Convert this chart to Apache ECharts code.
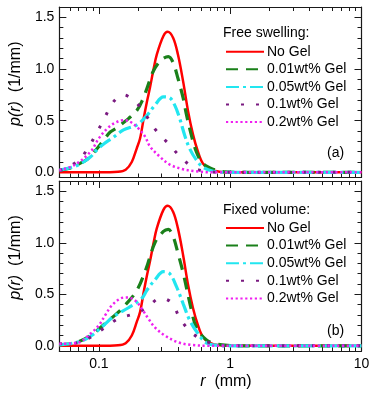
<!DOCTYPE html>
<html>
<head>
<meta charset="utf-8">
<script src="https://cdn.jsdelivr.net/npm/echarts@6/dist/echarts.min.js"></script>
<style>
  html, body { margin: 0; padding: 0; background: #fff; }
  #main { width: 381px; height: 395px; }
</style>
</head>
<body>
<div id="main"></div>
<script>
// labels
const seriesNames = ['No Gel', '0.01wt% Gel', '0.05wt% Gel', '0.1wt% Gel', '0.2wt% Gel'];
const panelTitles = ['Free swelling:', 'Fixed volume:'];
const panelTags = ['(a)', '(b)'];

// tick values
const xMajorTicks = [0.1, 1, 10];
const xMinorTicks = [0.05, 0.06, 0.07, 0.08, 0.09, 0.2, 0.3, 0.4, 0.5, 0.6, 0.7, 0.8, 0.9, 2, 3, 4, 5, 6, 7, 8, 9];
const yMajorTicks = [0, 0.5, 1, 1.5];
const yMinorTicks = [0.1, 0.2, 0.3, 0.4, 0.6, 0.7, 0.8, 0.9, 1.1, 1.2, 1.3, 1.4];

// [r (mm), p(r) (1/mm)]
const noGel = [[0.05, 0], [0.1, 0], [0.14, 0.005], [0.16, 0.025], [0.178, 0.1], [0.194, 0.23], [0.206, 0.33], [0.22, 0.53], [0.232, 0.68], [0.245, 0.82], [0.26, 0.99], [0.276, 1.14], [0.31, 1.32], [0.334, 1.36], [0.368, 1.30], [0.40, 1.14], [0.438, 0.88], [0.478, 0.59], [0.52, 0.37], [0.568, 0.20], [0.62, 0.085], [0.70, 0.03], [0.83, 0.005], [1, 0], [10, 0]];

// panel (a): free swelling
const free001 = [[0.05, 0.02], [0.06, 0.04], [0.07, 0.08], [0.082, 0.13], [0.097, 0.23], [0.11, 0.32], [0.122, 0.39], [0.137, 0.43], [0.15, 0.47], [0.168, 0.52], [0.195, 0.60], [0.215, 0.70], [0.232, 0.81], [0.26, 0.98], [0.30, 1.09], [0.338, 1.12], [0.368, 1.06], [0.40, 0.91], [0.438, 0.72], [0.464, 0.56], [0.506, 0.36], [0.552, 0.20], [0.62, 0.085], [0.74, 0.03], [0.9, 0.005], [1.2, 0], [10, 0]];
const free005 = [[0.05, 0.02], [0.054, 0.03], [0.063, 0.05], [0.073, 0.085], [0.0865, 0.15], [0.097, 0.22], [0.11, 0.28], [0.126, 0.33], [0.154, 0.41], [0.195, 0.46], [0.232, 0.55], [0.267, 0.65], [0.31, 0.73], [0.347, 0.72], [0.378, 0.65], [0.413, 0.52], [0.45, 0.36], [0.491, 0.23], [0.552, 0.12], [0.62, 0.05], [0.74, 0.01], [0.9, 0], [10, 0]];
const free01 = [[0.05, 0.02], [0.054, 0.03], [0.0707, 0.12], [0.084, 0.25], [0.096, 0.38], [0.109, 0.51], [0.124, 0.65], [0.14, 0.73], [0.154, 0.75], [0.175, 0.72], [0.195, 0.67], [0.232, 0.54], [0.275, 0.40], [0.343, 0.27], [0.433, 0.13], [0.546, 0.035], [0.7, 0.005], [1, 0], [10, 0]];
const free02 = [[0.05, 0.02], [0.065, 0.07], [0.0865, 0.20], [0.1, 0.33], [0.116, 0.425], [0.133, 0.48], [0.154, 0.505], [0.173, 0.49], [0.2, 0.425], [0.225, 0.345], [0.245, 0.25], [0.292, 0.15], [0.347, 0.075], [0.438, 0.03], [0.55, 0.01], [0.7, 0], [10, 0]];

// panel (b): fixed volume
const fixed001 = [[0.05, 0.01], [0.06, 0.02], [0.07, 0.04], [0.084, 0.09], [0.093, 0.13], [0.11, 0.21], [0.136, 0.31], [0.16, 0.40], [0.195, 0.54], [0.229, 0.75], [0.267, 1.00], [0.31, 1.11], [0.338, 1.13], [0.368, 1.06], [0.40, 0.90], [0.438, 0.71], [0.506, 0.35], [0.552, 0.18], [0.656, 0.06], [0.78, 0.02], [1, 0.003], [1.2, 0], [10, 0]];
const fixed005 = [[0.05, 0.01], [0.06, 0.02], [0.075, 0.05], [0.088, 0.10], [0.109, 0.20], [0.131, 0.29], [0.168, 0.37], [0.212, 0.46], [0.232, 0.54], [0.267, 0.64], [0.31, 0.72], [0.347, 0.70], [0.39, 0.575], [0.438, 0.41], [0.491, 0.25], [0.568, 0.12], [0.656, 0.03], [0.8, 0.005], [1, 0], [10, 0]];
const fixed01 = [[0.05, 0.02], [0.069, 0.03], [0.0865, 0.085], [0.112, 0.18], [0.141, 0.265], [0.184, 0.31], [0.232, 0.37], [0.292, 0.46], [0.33, 0.45], [0.368, 0.40], [0.413, 0.27], [0.506, 0.13], [0.64, 0.05], [0.8, 0.01], [1, 0], [10, 0]];
const fixed02 = [[0.05, 0.02], [0.069, 0.03], [0.0865, 0.12], [0.1, 0.20], [0.112, 0.30], [0.126, 0.395], [0.146, 0.46], [0.164, 0.47], [0.189, 0.44], [0.212, 0.36], [0.238, 0.265], [0.267, 0.18], [0.318, 0.10], [0.40, 0.035], [0.5, 0.01], [0.7, 0], [10, 0]];

const panelData = [
  [noGel, free001, free005, free01, free02],
  [noGel, fixed001, fixed005, fixed01, fixed02]
];

// styles
const colors = ['#ff0000', '#1a801a', '#22e6f0', '#7a1a80', '#f020f0'];
const widths = [2.5, 3.2, 3.2, 3, 2.5];
const dashes = ['solid', [12, 8], [13, 4, 3, 4], [3, 12], [2.2, 2.6]];

const font = 'Liberation Sans, Arial, Helvetica, sans-serif';
const grids = [
  { left: 57.5, right: 19.5, top: 7, height: 170.5 },
  { left: 57.5, right: 19.5, top: 181, height: 170 }
];

const xAxes = [];
const yAxes = [];
grids.forEach((g, gi) => {
  const noLine = { show: false, onZero: false };
  const bx = { type: 'log', logBase: 10, min: 0.05, max: 10, gridIndex: gi, splitLine: { show: false },
    axisLine: noLine, axisLabel: { show: false }, axisPointer: { show: false } };
  const by = { type: 'value', min: -0.05, max: 1.6, gridIndex: gi, splitLine: { show: false },
    axisLine: noLine, axisLabel: { show: false }, axisPointer: { show: false } };
  const line = { show: true, onZero: false, lineStyle: { color: '#1a1a1a', width: 1.2 } };
  const tk = (vals, len) => ({ show: true, inside: true, length: len, customValues: vals, lineStyle: { color: '#1a1a1a', width: 1 } });

  ['bottom', 'top'].forEach(pos => {
    const major = Object.assign({}, bx, { position: pos, axisLine: line, axisTick: tk(xMajorTicks, 7) });
    if (pos === 'bottom' && gi === 1) {
      major.axisLabel = { show: true, customValues: xMajorTicks, margin: 6, fontSize: 14, color: '#000', fontFamily: font,
        formatter: v => String(+v.toPrecision(3)) };
      major.name = '{i|r}  (mm)';
      major.nameLocation = 'middle';
      major.nameGap = 23;
      major.nameTextStyle = { fontSize: 16, color: '#000', fontFamily: font, padding: [0, 0, 0, 31],
        rich: { i: { fontStyle: 'italic', fontSize: 16, fontFamily: font, color: '#000' } } };
    }
    xAxes.push(major);
    xAxes.push(Object.assign({}, bx, { position: pos, axisTick: tk(xMinorTicks, 4) }));
  });

  ['left', 'right'].forEach(pos => {
    const major = Object.assign({}, by, { position: pos, axisLine: line, axisTick: tk(yMajorTicks, 7) });
    if (pos === 'left') {
      major.axisLabel = { show: true, customValues: yMajorTicks, margin: 5, fontSize: 14, color: '#000', fontFamily: font,
        formatter: v => v.toFixed(1) };
      major.name = '{i|p(r)}  (1/mm)';
      major.nameLocation = 'middle';
      major.nameGap = 32;
      major.nameTextStyle = { fontSize: 16, color: '#000', fontFamily: font, padding: [0, 0, 0, 17],
        rich: { i: { fontStyle: 'italic', fontSize: 16, fontFamily: font, color: '#000' } } };
    }
    yAxes.push(major);
    yAxes.push(Object.assign({}, by, { position: pos, axisTick: tk(yMinorTicks, 4) }));
  });
});

const series = [];
panelData.forEach((sets, gi) => {
  sets.forEach((d, i) => {
    series.push({
      name: seriesNames[i],
      type: 'line',
      xAxisIndex: gi * 4,
      yAxisIndex: gi * 4,
      data: d,
      smooth: 0.35,
      symbol: 'none',
      clip: true,
      z: 2 + i,
      lineStyle: { color: colors[i], width: widths[i], type: dashes[i], cap: 'butt' },
      itemStyle: { color: colors[i] }
    });
  });
});

const textStyle = { fontSize: 14, fontWeight: 'normal', color: '#000', fontFamily: font };

const chart = echarts.init(document.getElementById('main'), null, { renderer: 'canvas' });
chart.setOption({
  animation: false,
  backgroundColor: '#fff',
  title: [
    { text: panelTitles[0], left: 223, top: 26, padding: 0, textStyle },
    { text: panelTitles[1], left: 223, top: 203, padding: 0, textStyle },
    { text: panelTags[0], left: 327, top: 146.5, padding: 0, textStyle },
    { text: panelTags[1], left: 327, top: 324.5, padding: 0, textStyle }
  ],
  legend: [44.7, 221].map(t => ({
    orient: 'vertical', left: 225, top: t, padding: 0,
    itemWidth: 38, itemHeight: 14, itemGap: 3.6,
    data: seriesNames,
    itemStyle: { opacity: 0 },
    textStyle: { fontSize: 14, color: '#000', fontFamily: font, padding: [0, 0, 0, -2] },
    selectedMode: false
  })),
  grid: grids,
  xAxis: xAxes,
  yAxis: yAxes,
  series
});
</script>
</body>
</html>
